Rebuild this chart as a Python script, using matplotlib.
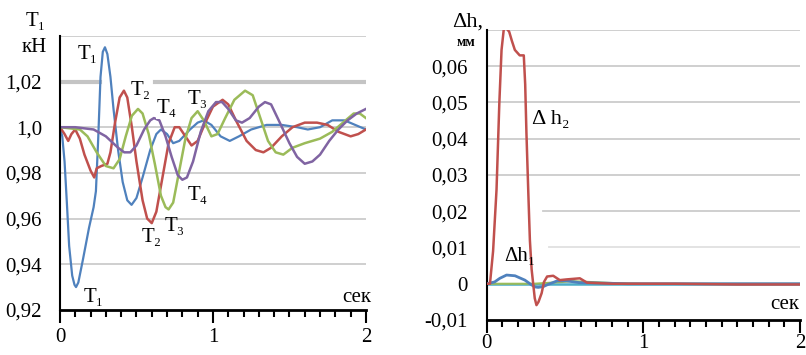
import numpy as np
import matplotlib.pyplot as plt
from matplotlib.ticker import MultipleLocator

plt.rcParams['font.family'] = ['Liberation Serif', 'DejaVu Serif']

# left panel: T1..T4, kN
t1 = [0, 0.015, 0.03, 0.045, 0.06, 0.08, 0.095, 0.105, 0.12, 0.15, 0.19, 0.22, 0.235, 0.25, 0.265, 0.28, 0.294,
      0.31, 0.33, 0.35, 0.38, 0.41, 0.44, 0.468, 0.5, 0.54, 0.59, 0.63, 0.66, 0.70, 0.74, 0.78, 0.85, 0.9, 0.94,
      0.99, 1.05, 1.11, 1.17, 1.25, 1.35, 1.45, 1.55, 1.62, 1.7, 1.78, 1.86, 1.93, 2.0]
T1 = [1.0, 0.996, 0.985, 0.967, 0.948, 0.935, 0.931, 0.930, 0.932, 0.942, 0.956, 0.965, 0.972, 0.995, 1.022, 1.033,
      1.035, 1.032, 1.022, 1.008, 0.99, 0.976, 0.968, 0.966, 0.969, 0.978, 0.99, 0.997, 0.999, 0.997, 0.993, 0.994,
      0.999, 1.002, 1.003, 1.001, 0.996, 0.994, 0.996, 0.999, 1.001, 1.001, 1.0, 0.999, 1.0, 1.003, 1.003, 1.001,
      0.999]

t2 = [0, 0.03, 0.054, 0.075, 0.1, 0.13, 0.16, 0.2, 0.224, 0.24, 0.27, 0.31, 0.33, 0.36, 0.39, 0.418, 0.44, 0.47,
      0.5, 0.54, 0.57, 0.6, 0.63, 0.67, 0.71, 0.75, 0.78, 0.82, 0.86, 0.9, 0.95, 1.0, 1.063, 1.1, 1.15, 1.22, 1.28,
      1.33, 1.38, 1.45, 1.52, 1.6, 1.68, 1.75, 1.82, 1.9, 1.95, 2.0]
T2 = [1.0, 0.997, 0.994, 0.997, 0.999, 0.995, 0.988, 0.981, 0.978, 0.982, 0.983, 0.984, 0.989, 1.002, 1.013, 1.016,
      1.013, 1.0, 0.985, 0.968, 0.960, 0.958, 0.963, 0.978, 0.993, 1.0, 1.0, 0.996, 0.992, 0.994, 1.002, 1.009,
      1.012, 1.01, 1.003, 0.994, 0.99, 0.989, 0.991, 0.996, 1.0, 1.002, 1.002, 1.001, 0.998, 0.996, 0.997, 0.999]

t3 = [0, 0.13, 0.18, 0.24, 0.3, 0.35, 0.39, 0.43, 0.47, 0.51, 0.54, 0.58, 0.62, 0.66, 0.69, 0.71, 0.74, 0.78,
      0.82, 0.86, 0.9, 0.94, 0.99, 1.03, 1.08, 1.14, 1.21, 1.26, 1.31, 1.36, 1.41, 1.46, 1.52, 1.6, 1.7, 1.78,
      1.85, 1.92, 1.96, 2.0]
T3 = [1.0, 0.999, 0.996, 0.989, 0.983, 0.982, 0.986, 0.996, 1.005, 1.008, 1.006, 0.997, 0.984, 0.970, 0.965, 0.964,
      0.967, 0.981, 0.995, 1.004, 1.007, 1.003, 0.996, 0.997, 1.004, 1.012, 1.016, 1.014, 1.004, 0.994, 0.989,
      0.988, 0.991, 0.993, 0.995, 0.998, 1.002, 1.006, 1.006, 1.004]

t4 = [0, 0.1, 0.22, 0.3, 0.38, 0.42, 0.46, 0.5, 0.55, 0.59, 0.614, 0.65, 0.69, 0.73, 0.77, 0.8, 0.83, 0.87, 0.92,
      0.97, 1.02, 1.06, 1.1, 1.15, 1.19, 1.24, 1.3, 1.34, 1.38, 1.43, 1.5, 1.55, 1.6, 1.65, 1.7, 1.76, 1.82, 1.88,
      1.94, 2.0]
T4 = [1.0, 1.0, 0.999, 0.996, 0.991, 0.989, 0.989, 0.992, 0.999, 1.003, 1.004, 1.003, 0.996, 0.987, 0.979, 0.977,
      0.978, 0.985, 0.998, 1.007, 1.011, 1.011, 1.008, 1.003, 1.002, 1.004, 1.009, 1.011, 1.01, 1.003, 0.993, 0.987,
      0.984, 0.985, 0.988, 0.994, 0.999, 1.003, 1.006, 1.008]

# right panel: dh, mm
th2 = [0, 0.02, 0.04, 0.062, 0.08, 0.094, 0.109, 0.125, 0.143, 0.16, 0.179, 0.21, 0.236, 0.245, 0.253, 0.265,
       0.275, 0.286, 0.296, 0.306, 0.317, 0.33, 0.35, 0.365, 0.385, 0.424, 0.466, 0.51, 0.594, 0.64, 0.8, 1.0,
       1.2, 1.6, 2.0]
dh2 = [0, 0, 0.009, 0.026, 0.05, 0.0645, 0.0705, 0.0705, 0.0695, 0.067, 0.0645, 0.063, 0.063, 0.055, 0.0415,
       0.025, 0.012, 0.004, 0.0, -0.004, -0.0059, -0.005, -0.0026, 0.0005, 0.002, 0.0022, 0.001, 0.0012, 0.0015,
       0.0003, 0.0, 0.0, 0.0, -0.0002, -0.0002]
th1 = [0, 0.05, 0.083, 0.126, 0.18, 0.243, 0.285, 0.31, 0.328, 0.36, 0.385, 0.45, 0.51, 0.59, 0.72, 0.9, 2.0]
dh1 = [0, 0.0005, 0.0015, 0.0024, 0.0022, 0.001, -0.0003, -0.0009, -0.001, -0.0008, -0.0003, 0.0008, 0.0008,
       0.0003, 0.0002, 0.0, 0.0]
th3 = [0, 0.3, 0.45, 0.55, 0.7, 0.85, 1.0, 2.0]
dh3 = [0, 0, 0.0004, 0.0007, 0.0004, 0.0001, 0, 0]
th4 = [0, 2.0]
dh4 = [0, 0]

blue, red, green, purple, cyan = '#4f81bd', '#c0504d', '#9bbb59', '#8064a2', '#4bacc6'
fs = 15

fig = plt.figure(figsize=(8.06, 3.55), dpi=100)
ax1 = fig.add_axes([0.0744, 0.127, 0.3796, 0.772])
ax2 = fig.add_axes([0.604, 0.0986, 0.3886, 0.8169])

def style(ax, ypad, xpad):
    for s in ['top', 'right']:
        ax.spines[s].set_visible(False)
    ax.spines['left'].set_linewidth(1.5)
    ax.spines['bottom'].set_linewidth(2)
    ax.set_xlim(0, 2)
    ax.set_xticks([0, 1, 2])
    ax.set_xticklabels(['0', '1', '2'])
    ax.xaxis.set_minor_locator(MultipleLocator(0.1))
    ax.tick_params(axis='x', which='major', length=9, width=1.5, labelsize=fs, pad=xpad)
    ax.tick_params(axis='x', which='minor', length=5, width=1.5)
    ax.tick_params(axis='y', length=0, labelsize=fs, pad=ypad)

# left
ax1.set_ylim(0.92, 1.04)
for y in [0.94, 0.96, 0.98, 1.0, 1.04]:
    ax1.axhline(y, color='#cccccc', lw=1.3, zorder=0)
ax1.axhline(1.02, xmax=0.13, color='#c4c4c4', lw=3, zorder=0)
ax1.axhline(1.02, xmin=0.31, color='#c4c4c4', lw=3, zorder=0)
ax1.plot(t1, T1, color=blue, lw=1.6)
ax1.plot(t2, T2, color=red, lw=1.8)
ax1.plot(t3, T3, color=green, lw=1.8)
ax1.plot(t4, T4, color=purple, lw=1.8)
style(ax1, 13, 4)
ax1.set_yticks([0.92, 0.94, 0.96, 0.98, 1.0, 1.02])
ax1.set_yticklabels(['0,92', '0,94', '0,96', '0,98', '1,0', '1,02'])
ax1.text(-0.085, 1.0348, 'кН', fontsize=fs, ha='right', va='center', clip_on=False)
ax1.text(-0.09, 1.0465, 'T₁', fontsize=fs, ha='right', va='center', clip_on=False)
ax1.text(1.94, 0.9255, 'сек', fontsize=fs, ha='center', va='center')
lab = dict(fontsize=fs, ha='center', va='center', bbox=dict(fc='white', ec='none', pad=0.5))
ax1.text(0.18, 1.032, 'T₁', **lab)
ax1.text(0.53, 1.016, 'T₂', **lab)
ax1.text(0.70, 1.008, 'T₄', **lab)
ax1.text(0.90, 1.012, 'T₃', fontsize=fs, ha='center', va='center')
ax1.text(0.90, 0.970, 'T₄', fontsize=fs, ha='center', va='center')
ax1.text(0.75, 0.9565, 'T₃', fontsize=fs, ha='center', va='center')
ax1.text(0.60, 0.9515, 'T₂', fontsize=fs, ha='center', va='center')
ax1.text(0.22, 0.9255, 'T₁', fontsize=fs, ha='center', va='center')

# right
ax2.set_ylim(-0.01, 0.07)
for y in [0.03, 0.04, 0.05, 0.06, 0.07]:
    ax2.axhline(y, color='#cccccc', lw=1.3, zorder=0)
ax2.axhline(0.02, xmin=0.18, color='#cccccc', lw=1.3, zorder=0)
ax2.axhline(0.01, xmin=0.2, color='#e0e0e0', lw=1.3, zorder=0)
ax2.plot(th4, dh4, color=cyan, lw=1.8, zorder=2)
ax2.plot(th3, dh3, color=green, lw=1.5, zorder=2)
ax2.plot(th1, dh1, color=blue, lw=2, zorder=3)
ax2.plot(th2, dh2, color=red, lw=1.8, zorder=3)
style(ax2, 14, 1)
ax2.set_yticks([-0.01, 0, 0.01, 0.02, 0.03, 0.04, 0.05, 0.06])
ax2.set_yticklabels(['-0,01', '0', '0,01', '0,02', '0,03', '0,04', '0,05', '0,06'])
ax2.text(-0.026, 0.0722, 'Δh,', fontsize=fs + 1, ha='right', va='center', clip_on=False)
ax2.text(-0.07, 0.0665, 'мм', fontsize=10, ha='right', va='center', fontweight='bold')
ax2.text(1.90, -0.0057, 'сек', fontsize=fs, ha='center', va='center')
ax2.text(0.41, 0.0452, 'Δ h₂', fontsize=fs + 1, ha='center', va='center')
ax2.text(0.21, 0.0074, 'Δh₁', fontsize=fs, ha='center', va='center')

fig.savefig('out.png', dpi=100)
